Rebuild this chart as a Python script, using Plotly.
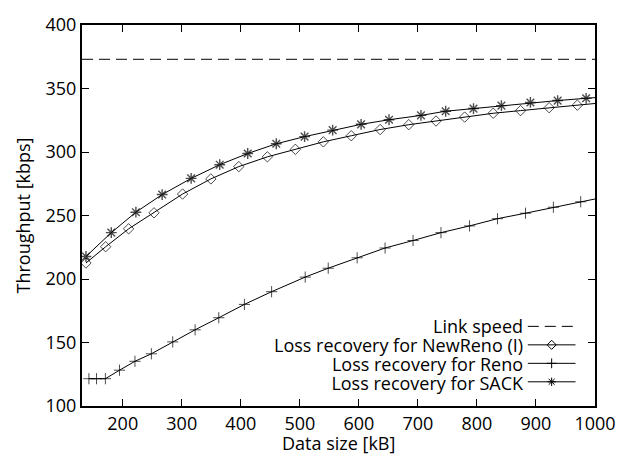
import plotly.graph_objects as go

# ---- data ----
x_range = [131, 1000]
y_range = [100, 400]
link_speed = 373

sack_x = [137.7, 180.6, 222.3, 266.8, 315.9, 364.3, 411.7, 460.1, 508.1, 555.6,
          603.8, 651.1, 705.2, 747.0, 794.2, 841.5, 890.6, 936.7, 985.0, 1000]
sack_y = [217.7, 236.5, 252.6, 266.5, 279.2, 290.0, 298.8, 306.5, 312.1, 317.2,
          321.8, 325.4, 328.8, 332.1, 334.2, 336.5, 339.0, 340.5, 342.3, 342.8]

newreno_x = [137.7, 171.1, 210.0, 253.0, 301.4, 349.3, 396.6, 445.0, 492.4, 539.8,
             587.1, 636.0, 684.5, 730.7, 779.2, 827.6, 873.9, 922.3, 970.1, 1000]
newreno_y = [212.6, 225.4, 239.5, 252.1, 266.9, 278.8, 288.5, 296.2, 302.1, 308.0,
             312.8, 317.7, 321.5, 324.4, 327.5, 330.5, 332.6, 334.9, 336.9, 338.2]

reno_x = [142.7, 155.6, 170.6, 194.5, 220.7, 248.5, 284.7, 322.6, 362.7, 406.1,
          452.2, 509.1, 548.1, 597.1, 644.4, 691.8, 739.1, 787.5, 834.8, 882.3,
          929.5, 975.8, 1000]
reno_y = [121.5, 121.5, 121.5, 128.2, 135.2, 141.1, 150.5, 160.0, 169.5, 180.0,
          190.0, 201.5, 208.5, 216.7, 224.4, 230.3, 236.5, 241.8, 247.5, 251.8,
          256.5, 260.8, 263.0]

legend_labels = ["Link speed", "Loss recovery for NewReno (I)",
                 "Loss recovery for Reno", "Loss recovery for SACK"]

x_ticks = [200, 300, 400, 500, 600, 700, 800, 900, 1000]
y_ticks = [100, 150, 200, 250, 300, 350, 400]

x_title = "Data size [kB]"
y_title = "Throughput [kbps]"

FONT = "Open Sans"
FS = 18
BLACK = "#000000"
DASH = "11px,6px"


def sizes(n, s):
    # last point only marks where the line meets the right axis
    return [s] * (n - 1) + [0]


fig = go.Figure()

fig.add_trace(go.Scatter(x=x_range, y=[link_speed, link_speed], mode="lines",
                         line=dict(color=BLACK, width=1, dash=DASH),
                         showlegend=False, hoverinfo="skip"))

series = [
    (newreno_x, newreno_y, "diamond-open", 8, 1),
    (reno_x, reno_y, "cross-thin-open", 8, 1),
    (sack_x, sack_y, "asterisk-open", 9, 1.4),
]
for xs, ys, sym, s, lw in series:
    fig.add_trace(go.Scatter(
        x=xs, y=ys, mode="lines+markers",
        line=dict(color=BLACK, width=1),
        marker=dict(symbol=sym, size=sizes(len(xs), s), color=BLACK,
                    line=dict(color=BLACK, width=lw)),
        showlegend=False))

# ---- custom key: text right-aligned, sample to its right ----
row_gap = 0.0485
key_top = 0.209
key_rows = [key_top - i * row_gap for i in range(len(legend_labels))]
key_styles = [("dash", None), ("solid", "diamond-open"),
              ("solid", "cross-thin-open"), ("solid", "asterisk-open")]
key_x0, key_x1 = 0.869, 0.962

key_text = "<br>".join('<span style="font-size:%dpx">%s</span>' % (FS, t)
                       for t in legend_labels)
fig.add_annotation(x=0.864, y=sum(key_rows) / len(key_rows), xref="paper", yref="paper",
                   text=key_text, showarrow=False, xanchor="right", yanchor="middle",
                   align="right", borderpad=0,
                   font=dict(family=FONT, size=14.5, color=BLACK))

for yy, (dash, sym) in zip(key_rows, key_styles):
    fig.add_trace(go.Scatter(
        x=[key_x0, key_x1], y=[yy, yy], xaxis="x2", yaxis="y2", mode="lines",
        line=dict(color=BLACK, width=1, dash=DASH if dash == "dash" else "solid"),
        showlegend=False, hoverinfo="skip"))
    if sym:
        fig.add_trace(go.Scatter(
            x=[(key_x0 + key_x1) / 2], y=[yy], xaxis="x2", yaxis="y2", mode="markers",
            marker=dict(symbol=sym, size=7, color=BLACK, line=dict(color=BLACK, width=1)),
            showlegend=False, hoverinfo="skip"))

# axis titles
fig.add_annotation(x=0.5, y=0, xref="paper", yref="paper", text=x_title,
                   showarrow=False, xanchor="center", yanchor="middle", yshift=-37,
                   borderpad=0, font=dict(family=FONT, size=FS, color=BLACK))
fig.add_annotation(x=0, y=0.5, xref="paper", yref="paper", text=y_title,
                   showarrow=False, xanchor="center", yanchor="middle", xshift=-60,
                   textangle=-90, borderpad=0,
                   font=dict(family=FONT, size=FS, color=BLACK))

axis_common = dict(showgrid=False, zeroline=False, showline=True, linecolor=BLACK,
                   linewidth=2, mirror="ticks", ticks="inside", ticklen=7,
                   tickwidth=1, tickcolor=BLACK,
                   tickfont=dict(family=FONT, size=FS, color=BLACK))

fig.update_layout(
    width=628, height=456,
    margin=dict(l=82, r=26, t=16, b=50),
    paper_bgcolor="white", plot_bgcolor="white",
    xaxis=dict(range=x_range, tickvals=x_ticks, ticklabelstandoff=0, **axis_common),
    yaxis=dict(range=y_range, tickvals=y_ticks, **axis_common),
    xaxis2=dict(range=[0, 1], overlaying="x", visible=False, fixedrange=True),
    yaxis2=dict(range=[0, 1], overlaying="y", visible=False, fixedrange=True),
    showlegend=False,
)

# remove the browser's default page margin so the figure sits at the window origin
fig.write_html("out.html",
               config={"displayModeBar": False},
               post_script="document.body.style.margin='0';"
                           "document.documentElement.style.overflow='hidden';")
